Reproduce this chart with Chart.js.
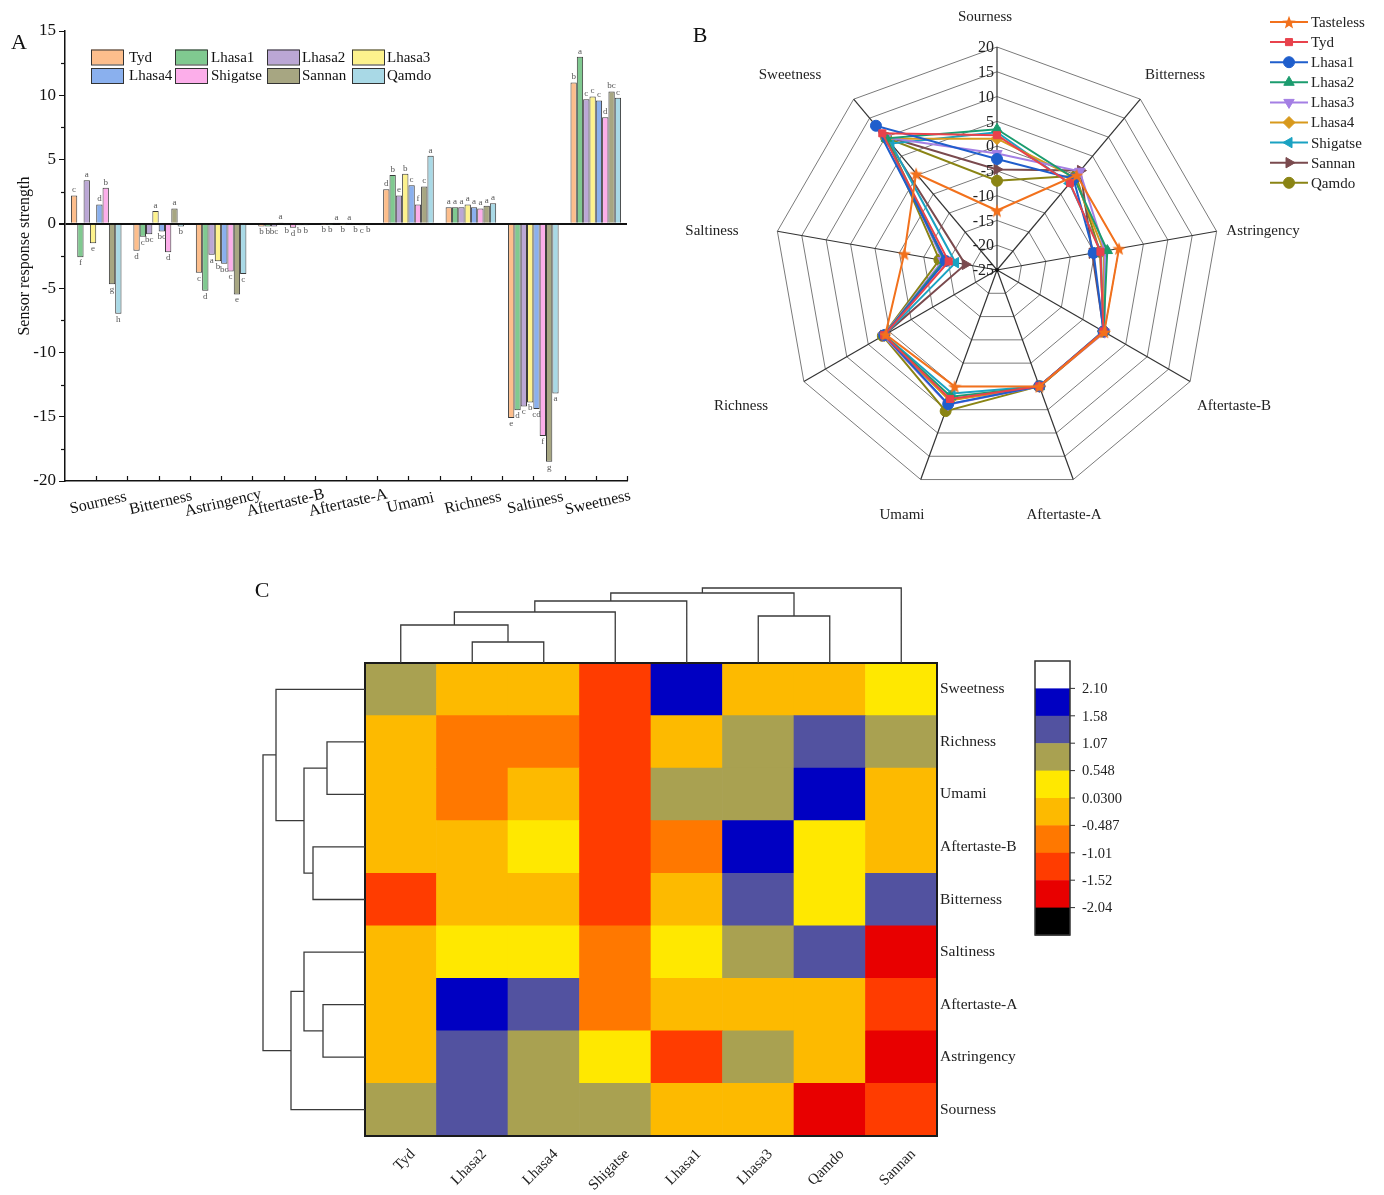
<!DOCTYPE html>
<html>
<head>
<meta charset="utf-8">
<title>Electronic tongue taste profiles</title>
<script src="https://cdn.jsdelivr.net/npm/chart.js@4.4.1/dist/chart.umd.min.js"></script>
<style>
  html, body { margin: 0; padding: 0; background: #fff; }
  body { width: 1384px; height: 1195px; position: relative; overflow: hidden; }
  canvas { position: absolute; }
  #cA { left: 0; top: 0; }
  #cB { left: 660px; top: 0; }
  #cC { left: 240px; top: 570px; }
</style>
</head>
<body>
<canvas id="cA" width="660" height="530"></canvas>
<canvas id="cB" width="724" height="545"></canvas>
<canvas id="cC" width="900" height="625"></canvas>
<script>
// ---- taste attributes (bar categories / radar axes, clockwise from top) ----
const tastes = ['Sourness', 'Bitterness', 'Astringency', 'Aftertaste-B', 'Aftertaste-A', 'Umami', 'Richness', 'Saltiness', 'Sweetness'];
const samples = ['Tyd', 'Lhasa1', 'Lhasa2', 'Lhasa3', 'Lhasa4', 'Shigatse', 'Sannan', 'Qamdo'];

// sensor response strength per sample, in taste order
const tyd      = [2.2, -2.1, -3.8, -0.2, -0.03, 2.7, 1.3, -15.1, 11.0];
const lhasa1   = [-2.6, -1.0, -5.2, -0.2, -0.03, 3.8, 1.3, -14.5, 13.0];
const lhasa2   = [3.4, -0.8, -2.4, -0.2, 0.06, 2.2, 1.3, -14.2, 9.7];
const lhasa3   = [-1.5, 1.0, -2.9, 0.1, -0.03, 3.9, 1.5, -13.9, 9.9];
const lhasa4   = [1.5, -0.6, -3.1, -0.1, 0.06, 3.0, 1.3, -14.4, 9.6];
const shigatse = [2.8, -2.2, -3.7, -0.3, -0.05, 1.5, 1.2, -16.5, 8.3];
const sannan   = [-4.7, 1.2, -5.5, -0.1, -0.1, 2.9, 1.4, -18.5, 10.3];
const qamdo    = [-7.0, -0.2, -3.9, -0.1, -0.05, 5.3, 1.6, -13.2, 9.8];
const tasteless = [-13.0, 0.0, 0.0, 0.0, 0.0, 0.0, 1.0, -6.0, 0.4];

// significance letters per sample, in taste order
const tydSig      = ['c', 'd', 'c', 'b', 'b', 'd', 'a', 'e', 'b'];
const lhasa1Sig   = ['f', 'c', 'd', 'b', 'b', 'b', 'a', 'd', 'a'];
const lhasa2Sig   = ['a', 'bc', 'a', 'bc', 'a', 'e', 'a', 'c', 'c'];
const lhasa3Sig   = ['e', 'a', 'b', 'a', 'b', 'b', 'a', 'b', 'c'];
const lhasa4Sig   = ['d', 'bc', 'bc', 'b', 'a', 'c', 'a', 'cd', 'c'];
const shigatseSig = ['b', 'd', 'c', 'd', 'b', 'f', 'a', 'f', 'd'];
const sannanSig   = ['g', 'a', 'e', 'b', 'c', 'c', 'a', 'g', 'bc'];
const qamdoSig    = ['h', 'b', 'c', 'b', 'b', 'a', 'a', 'a', 'c'];

// ---- clustered heat map (standardised scores) ----
const hmCols = ['Tyd', 'Lhasa2', 'Lhasa4', 'Shigatse', 'Lhasa1', 'Lhasa3', 'Qamdo', 'Sannan'];
const hmRows = ['Sweetness', 'Richness', 'Umami', 'Aftertaste-B', 'Bitterness', 'Saltiness', 'Aftertaste-A', 'Astringency', 'Sourness'];
const sweetnessZ   = [0.62, -0.36, -0.47, -1.39, 2.05, -0.21, -0.30, 0.08];
const richnessZ    = [-0.30, -0.60, -0.70, -1.20, -0.35, 0.70, 1.45, 0.85];
const umamiZ       = [-0.35, -0.80, -0.20, -1.45, 0.65, 0.75, 2.00, -0.20];
const aftertasteBZ = [-0.25, -0.30, 0.40, -1.40, -0.70, 1.90, 0.45, -0.10];
const bitternessZ  = [-1.30, -0.20, -0.10, -1.40, -0.40, 1.10, 0.35, 1.30];
const saltinessZ   = [-0.30, 0.20, 0.10, -0.80, 0.30, 0.75, 1.40, -1.80];
const aftertasteAZ = [-0.20, 1.90, 1.20, -0.90, -0.30, -0.10, -0.35, -1.20];
const astringencyZ = [-0.15, 1.30, 0.70, 0.40, -1.25, 0.80, -0.20, -1.60];
const sournessZ    = [0.65, 1.15, 0.60, 0.90, -0.40, -0.20, -1.65, -1.10];

// colour-scale boundaries and their printed labels
const colorLevels = [-2.04, -1.52, -1.01, -0.487, 0.0300, 0.548, 1.07, 1.58, 2.10];
const colorLevelLabels = ['-2.04', '-1.52', '-1.01', '-0.487', '0.0300', '0.548', '1.07', '1.58', '2.10'];

// hierarchical clustering: [childA, childB, distance]; new clusters are numbered n, n+1, ...
const colLinkage = [[1, 2, 2.1], [0, 8, 3.8], [9, 3, 5.1], [5, 6, 4.7], [10, 4, 6.2], [12, 11, 7.0], [13, 7, 7.5]];
const rowLinkage = [[1, 2, 3.8], [3, 4, 5.2], [9, 10, 6.1], [0, 11, 8.9], [6, 7, 4.2], [5, 13, 6.1], [14, 8, 7.4], [12, 15, 10.2]];

// ------------------------------------------------------------------
const SERIF = "'Liberation Serif', 'DejaVu Serif', serif";
Chart.defaults.font.family = SERIF;
Chart.defaults.color = '#111';

const sampleSeries = [tyd, lhasa1, lhasa2, lhasa3, lhasa4, shigatse, sannan, qamdo];
const sampleSig = [tydSig, lhasa1Sig, lhasa2Sig, lhasa3Sig, lhasa4Sig, shigatseSig, sannanSig, qamdoSig];
const barColors = ['#FDBE8C', '#80C990', '#BBA7D5', '#FDF28D', '#8AB0EE', '#FCAEEA', '#A7A682', '#A9D9E6'];

// ================= Panel A: grouped bars =================
const panelA = {
  id: 'panelA',
  afterDraw(chart) {
    const { ctx, chartArea: ca, scales: { x, y } } = chart;
    ctx.save();
    ctx.fillStyle = '#111';
    ctx.strokeStyle = '#111';
    ctx.lineWidth = 1.2;
    // minor y ticks
    for (let v = -17.5; v < 15; v += 5) {
      const py = Math.round(y.getPixelForValue(v)) + 0.5;
      ctx.beginPath(); ctx.moveTo(ca.left - 4, py); ctx.lineTo(ca.left, py); ctx.stroke();
    }
    // x ticks at category centres and boundaries (inward)
    const n = tastes.length;
    const half = (ca.right - ca.left) / (2 * n);
    for (let k = 1; k <= 2 * n; k++) {
      const px = Math.round(ca.left + k * half) + 0.5;
      ctx.beginPath(); ctx.moveTo(px, ca.bottom); ctx.lineTo(px, ca.bottom - 5); ctx.stroke();
    }
    // category labels, slanted
    ctx.font = '16px ' + SERIF;
    ctx.textAlign = 'center';
    ctx.textBaseline = 'middle';
    tastes.forEach((t, i) => {
      const px = x.getPixelForValue(i);
      ctx.save();
      ctx.translate(px + 2, ca.bottom + 22);
      ctx.rotate(-13 * Math.PI / 180);
      ctx.fillText(t, 0, 0);
      ctx.restore();
    });
    // y title
    ctx.save();
    ctx.translate(25, 256);
    ctx.rotate(-Math.PI / 2);
    ctx.font = '16px ' + SERIF;
    ctx.fillText('Sensor response strength', 0, 0);
    ctx.restore();
    // panel letter
    ctx.font = '22px ' + SERIF;
    ctx.textAlign = 'left';
    ctx.fillText('A', 11, 43);
    // significance letters
    ctx.font = '9px ' + SERIF;
    ctx.fillStyle = '#555';
    ctx.textAlign = 'center';
    chart.data.datasets.forEach((ds, di) => {
      const meta = chart.getDatasetMeta(di);
      meta.data.forEach((bar, i) => {
        const letter = sampleSig[di][i];
        if (ds.data[i] >= 0) {
          ctx.textBaseline = 'bottom';
          ctx.fillText(letter, bar.x, bar.y - 1);
        } else {
          ctx.textBaseline = 'top';
          ctx.fillText(letter, bar.x, bar.y + 1);
        }
      });
    });
    // legend box
    ctx.strokeStyle = '#333';
    ctx.lineWidth = 1;
    const swX = [91, 175, 267, 352], txX = [129, 211, 302, 387], rowY = [57, 75.5];
    ctx.font = '15px ' + SERIF;
    ctx.fillStyle = '#111';
    ctx.textAlign = 'left';
    ctx.textBaseline = 'middle';
    samples.forEach((s, i) => {
      const col = i % 4, row = Math.floor(i / 4);
      ctx.fillStyle = barColors[i];
      ctx.fillRect(swX[col], rowY[row] - 7.5, 32, 15);
      ctx.strokeRect(swX[col] + 0.5, rowY[row] - 7.5 + 0.5, 32, 15);
      ctx.fillStyle = '#111';
      ctx.fillText(s, txX[col], rowY[row] + 1);
    });
    ctx.restore();
  }
};

new Chart(document.getElementById('cA'), {
  type: 'bar',
  data: {
    labels: tastes,
    datasets: samples.map((s, i) => ({
      label: s,
      data: sampleSeries[i],
      backgroundColor: barColors[i],
      borderColor: '#3a3a3a',
      borderWidth: 1,
      categoryPercentage: 0.81,
      barPercentage: 1.0
    }))
  },
  options: {
    responsive: false,
    animation: false,
    devicePixelRatio: 1,
    layout: { padding: { top: 31, right: 33, left: 0, bottom: 0 } },
    plugins: { legend: { display: false }, tooltip: { enabled: false } },
    scales: {
      x: {
        grid: { display: false },
        border: { display: true, color: '#111', width: 1.5 },
        ticks: { display: false },
        afterFit(s) { s.height = 49; }
      },
      y: {
        min: -20, max: 15,
        ticks: { stepSize: 5, font: { size: 17 }, color: '#111', padding: 3 },
        grid: {
          color: c => (c.tick && c.tick.value === 0 ? '#111' : 'rgba(0,0,0,0)'),
          lineWidth: c => (c.tick && c.tick.value === 0 ? 2 : 1),
          tickColor: '#111', tickLength: 6, drawTicks: true
        },
        border: { display: true, color: '#111', width: 1.5 },
        afterFit(s) { s.width = 65; }
      }
    }
  },
  plugins: [panelA]
});

// ================= Panel B: radar =================
function makeStar(size, color) {
  const c = document.createElement('canvas');
  c.width = size; c.height = size;
  const g = c.getContext('2d');
  const cx = size / 2, cy = size / 2 + 0.8, R = size / 2, r = R * 0.42;
  g.beginPath();
  for (let k = 0; k < 10; k++) {
    const a = -Math.PI / 2 + k * Math.PI / 5;
    const rr = k % 2 === 0 ? R : r;
    g.lineTo(cx + rr * Math.cos(a), cy + rr * Math.sin(a));
  }
  g.closePath();
  g.fillStyle = color;
  g.fill();
  return c;
}
const starImg = makeStar(14, '#F2711C');

const radarNames = ['Tasteless'].concat(samples);
const radarSeries = [tasteless].concat(sampleSeries);
const radarStyle = [
  { c: '#F2711C', ps: starImg, rot: 0, r: 6 },
  { c: '#E8424C', ps: 'rect', rot: 0, r: 5 },
  { c: '#1F5ECC', ps: 'circle', rot: 0, r: 5.5 },
  { c: '#1B9C6E', ps: 'triangle', rot: 0, r: 6 },
  { c: '#A47FE4', ps: 'triangle', rot: 180, r: 6 },
  { c: '#D8991C', ps: 'rectRot', rot: 0, r: 6 },
  { c: '#1AA2C2', ps: 'triangle', rot: -90, r: 6 },
  { c: '#7A4A4E', ps: 'triangle', rot: 90, r: 6 },
  { c: '#8A8414', ps: 'circle', rot: 0, r: 5.5 }
];

const panelB = {
  id: 'panelB',
  afterDraw(chart) {
    const { ctx } = chart;
    const r = chart.scales.r;
    ctx.save();
    // radial tick labels along the top axis
    ctx.font = '16px ' + SERIF;
    ctx.fillStyle = '#222';
    ctx.textAlign = 'right';
    ctx.textBaseline = 'middle';
    for (let v = -25; v <= 20; v += 5) {
      const d = r.getDistanceFromCenterForValue(v);
      ctx.fillText(String(v), r.xCenter - 3, r.yCenter - d + 1);
    }
    ctx.beginPath();
    ctx.arc(r.xCenter, r.yCenter, 2, 0, Math.PI * 2);
    ctx.fillStyle = '#111';
    ctx.fill();
    // axis titles
    const offs = [[-12, -253], [178, -195], [266, -39], [237, 136], [67, 245], [-95, 245], [-256, 136], [-285, -39], [-207, -195]];
    ctx.font = '15px ' + SERIF;
    ctx.fillStyle = '#222';
    ctx.textAlign = 'center';
    tastes.forEach((t, i) => {
      ctx.fillText(t, r.xCenter + offs[i][0], r.yCenter + offs[i][1]);
    });
    // panel letter
    ctx.font = '22px ' + SERIF;
    ctx.fillStyle = '#111';
    ctx.fillText('B', 40, 36);
    // legend
    ctx.font = '15px ' + SERIF;
    ctx.textAlign = 'left';
    radarNames.forEach((nm, i) => {
      const st = radarStyle[i];
      const yy = 22 + 20.1 * i;
      ctx.strokeStyle = st.c;
      ctx.lineWidth = 2;
      ctx.beginPath(); ctx.moveTo(610, yy); ctx.lineTo(648, yy); ctx.stroke();
      ctx.fillStyle = st.c;
      ctx.lineWidth = 1;
      Chart.helpers.drawPoint(ctx, { pointStyle: st.ps, rotation: st.rot, radius: st.r, borderWidth: 1 }, 629, yy);
      ctx.fillStyle = '#222';
      ctx.fillText(nm, 651, yy + 1);
    });
    ctx.restore();
  }
};

new Chart(document.getElementById('cB'), {
  type: 'radar',
  data: {
    labels: tastes,
    datasets: radarNames.map((nm, i) => ({
      label: nm,
      data: radarSeries[i],
      borderColor: radarStyle[i].c,
      backgroundColor: radarStyle[i].c,
      pointBackgroundColor: radarStyle[i].c,
      pointBorderColor: radarStyle[i].c,
      pointStyle: radarStyle[i].ps,
      pointRotation: radarStyle[i].rot,
      pointRadius: radarStyle[i].r,
      pointBorderWidth: 1,
      borderWidth: 2,
      fill: false,
      tension: 0
    }))
  },
  options: {
    responsive: false,
    animation: false,
    devicePixelRatio: 1,
    layout: { padding: { left: 114, top: 47, right: 164, bottom: 52 } },
    plugins: { legend: { display: false }, tooltip: { enabled: false } },
    scales: {
      r: {
        min: -25, max: 20,
        beginAtZero: false,
        ticks: { display: false, stepSize: 5 },
        pointLabels: { display: false },
        grid: { color: '#7a7a7a', lineWidth: 1 },
        angleLines: { color: '#333', lineWidth: 1.2 }
      }
    }
  },
  plugins: [panelB]
});

// ================= Panel C: clustered heat map =================
const hmValues = [sweetnessZ, richnessZ, umamiZ, aftertasteBZ, bitternessZ, saltinessZ, aftertasteAZ, astringencyZ, sournessZ];
// colours from lowest (< -2.04) to highest (> 2.10)
const levelColors = ['#000000', '#E80000', '#FF3C00', '#FF7800', '#FDBA00', '#FFE800', '#A9A151', '#5252A0', '#0000C2', '#FFFFFF'];
function colorFor(v) {
  let k = 0;
  while (k < colorLevels.length && v >= colorLevels[k]) k++;
  return levelColors[k];
}

function drawDendro(ctx, linkage, n, leafPos, base, pxPerUnit, vertical) {
  const pos = [], h = [];
  for (let i = 0; i < n; i++) { pos.push(leafPos(i)); h.push(0); }
  ctx.beginPath();
  linkage.forEach(([a, b, d]) => {
    const P = (pa, ha) => vertical ? [pa, base - ha * pxPerUnit] : [base - ha * pxPerUnit, pa];
    const p1 = P(pos[a], h[a]), p2 = P(pos[a], d), p3 = P(pos[b], d), p4 = P(pos[b], h[b]);
    ctx.moveTo(p1[0], p1[1]); ctx.lineTo(p2[0], p2[1]); ctx.lineTo(p3[0], p3[1]); ctx.lineTo(p4[0], p4[1]);
    pos.push((pos[a] + pos[b]) / 2);
    h.push(d);
  });
  ctx.stroke();
}

const panelC = {
  id: 'panelC',
  afterDraw(chart) {
    const { ctx, chartArea: ca, scales: { x, y } } = chart;
    ctx.save();
    // frame
    ctx.strokeStyle = '#1a1a1a';
    ctx.lineWidth = 2;
    ctx.strokeRect(ca.left, ca.top, ca.right - ca.left, ca.bottom - ca.top);
    // dendrograms
    ctx.strokeStyle = '#3a3a3a';
    ctx.lineWidth = 1.3;
    drawDendro(ctx, colLinkage, hmCols.length, i => x.getPixelForValue(i), ca.top, 10, true);
    drawDendro(ctx, rowLinkage, hmRows.length, i => y.getPixelForValue(hmRows.length - 0.5 - i), ca.left, 10, false);
    // row labels
    ctx.fillStyle = '#222';
    ctx.font = '15.5px ' + SERIF;
    ctx.textAlign = 'left';
    ctx.textBaseline = 'middle';
    hmRows.forEach((t, i) => ctx.fillText(t, ca.right + 3, y.getPixelForValue(hmRows.length - 0.5 - i)));
    // column labels
    ctx.font = '15px ' + SERIF;
    ctx.textAlign = 'right';
    hmCols.forEach((t, i) => {
      ctx.save();
      ctx.translate(x.getPixelForValue(i) + 12, ca.bottom + 16);
      ctx.rotate(-Math.PI / 4);
      ctx.fillText(t, 0, 0);
      ctx.restore();
    });
    // colour bar
    const bx = 795, by = 91, bw = 35, bh = 27.4;
    const nb = levelColors.length;
    for (let k = 0; k < nb; k++) {
      ctx.fillStyle = levelColors[nb - 1 - k];
      ctx.fillRect(bx, by + k * bh, bw, bh + 0.5);
    }
    ctx.strokeStyle = '#333';
    ctx.lineWidth = 1.5;
    ctx.strokeRect(bx, by, bw, bh * nb);
    ctx.font = '14.5px ' + SERIF;
    ctx.textAlign = 'left';
    ctx.fillStyle = '#222';
    ctx.lineWidth = 1;
    colorLevelLabels.forEach((lab, j) => {
      const k = nb - 1 - j;          // boundary above box index k
      const yy = by + k * bh;
      ctx.beginPath(); ctx.moveTo(bx + bw, yy); ctx.lineTo(bx + bw + 5, yy); ctx.stroke();
      ctx.fillText(lab, bx + bw + 12, yy + 1);
    });
    // panel letter
    ctx.font = '22px ' + SERIF;
    ctx.fillStyle = '#111';
    ctx.textAlign = 'center';
    ctx.fillText('C', 22, 21);
    ctx.restore();
  }
};

// one stacked segment per heat-map cell, bottom row first
const hmDatasets = [];
for (let r = hmRows.length - 1; r >= 0; r--) {
  hmDatasets.push({
    label: hmRows[r],
    data: hmCols.map(() => 1),
    backgroundColor: hmValues[r].map(colorFor),
    borderWidth: 0,
    categoryPercentage: 1,
    barPercentage: 1
  });
}

new Chart(document.getElementById('cC'), {
  type: 'bar',
  data: { labels: hmCols, datasets: hmDatasets },
  options: {
    responsive: false,
    animation: false,
    devicePixelRatio: 1,
    layout: { padding: { left: 125, top: 93, right: 203, bottom: 59 } },
    plugins: { legend: { display: false }, tooltip: { enabled: false } },
    scales: {
      x: { display: false, stacked: true },
      y: { display: false, stacked: true, min: 0, max: hmRows.length }
    }
  },
  plugins: [panelC]
});
</script>
</body>
</html>
